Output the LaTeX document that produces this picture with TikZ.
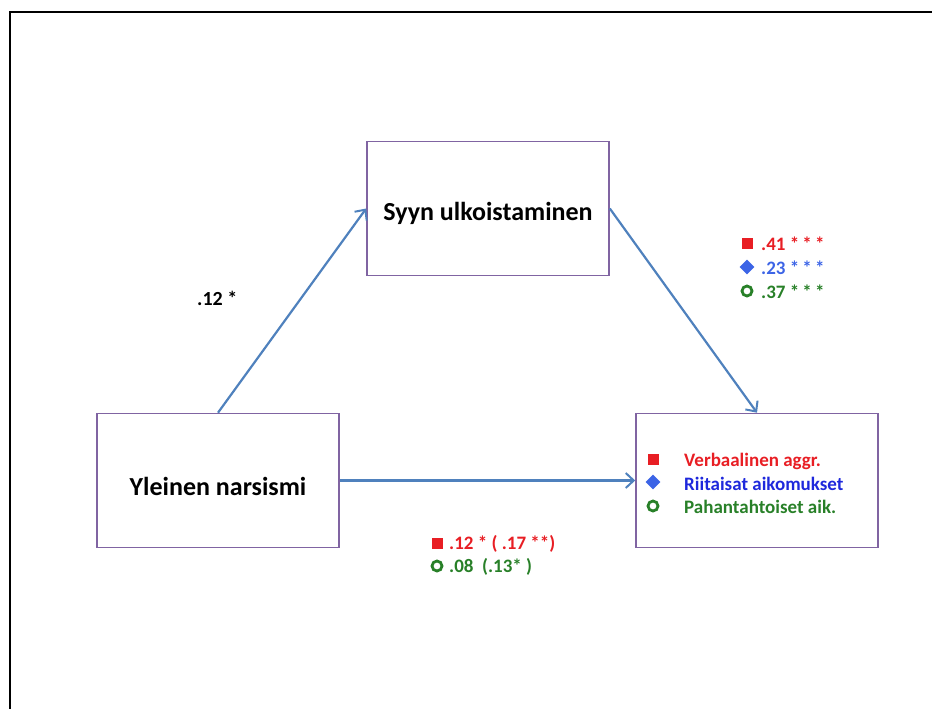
\documentclass[tikz,border=0pt]{standalone}
\usepackage{fontspec}
\setmainfont{Carlito}
\usetikzlibrary{shapes.geometric,arrows.meta}
\definecolor{boxpurple}{RGB}{128,100,162}
\definecolor{arrowblue}{RGB}{79,129,189}
\definecolor{cred}{RGB}{232,30,36}
\definecolor{cblue}{RGB}{60,100,230}
\definecolor{cdblue}{RGB}{30,40,220}
\definecolor{cgreen}{RGB}{40,128,40}
\begin{document}
\begin{tikzpicture}[x=1pt,y=-1pt,
  varbox/.style={draw=boxpurple, line width=1.6pt, minimum width=242pt,
    minimum height=134pt, inner sep=0pt},
  vartext/.style={inner sep=0pt, font=\bfseries\fontsize{26}{30}\selectfont},
  path/.style={draw=arrowblue, line width=2.2pt,
    -{Straight Barb[length=8pt,width=15pt,line width=2pt]}},
  lab/.style={anchor=west, inner sep=0pt, font=\bfseries\fontsize{19}{22}\selectfont},
  sq/.style={rectangle, fill=cred, minimum size=11pt, inner sep=0pt},
  dia/.style={diamond, fill=cblue, minimum size=15pt, inner sep=0pt},
  ring/.style={circle, draw=cgreen, line width=2.8pt, minimum size=10pt, inner sep=0pt}]
  \useasboundingbox (0,0) rectangle (932,709);
  % open frame
  \draw[line width=1.5pt] (10,712) -- (10,12) -- (935,12);

  % variables
  \node[varbox] (cause) at (488,208.5) {};
  \node[varbox] (narc)  at (218,480.5) {};
  \node[varbox] (out)   at (757,480.5) {};
  \node[vartext] (causet) at (488,213) {Syyn ulkoistaminen};
  \node[vartext] (narct)  at (218,486) {Yleinen narsismi};

  % paths
  \draw[path] (narc.north) -- (cause.west);
  \draw[path] (cause.east) -- (out.north);
  \draw[path] (narc.east) -- (out.west);

  % a path
  \node[lab, font=\bfseries\fontsize{20}{24}\selectfont] (a) at (197,298) {.12 *};

  % b paths
  \node[sq] (b1m) at (747,243) {};
  \node[lab, text=cred] (b1) at (761,244) {.41 *\,*\,*};
  \node[dia] (b2m) at (747,267) {};
  \node[lab, text=cblue] (b2) at (761,268) {.23 *\,*\,*};
  \node[ring] (b3m) at (747,291) {};
  \node[lab, text=cgreen] (b3) at (761,292) {.37 *\,*\,*};

  % outcome legend
  \node[sq] (o1m) at (653,459) {};
  \node[lab, text=cred] (o1) at (684,461) {Verbaalinen aggr.};
  \node[dia] (o2m) at (653,482) {};
  \node[lab, text=cdblue] (o2) at (684,484) {Riitaisat aikomukset};
  \node[ring] (o3m) at (653,506) {};
  \node[lab, text=cgreen] (o3) at (684,507) {Pahantahtoiset aik.};

  % c paths
  \node[sq] (c1m) at (437,543) {};
  \node[lab, text=cred] (c1) at (449,544) {.12 * ( .17 **)};
  \node[ring] (c2m) at (437,566) {};
  \node[lab, text=cgreen] (c2) at (449,567) {.08\ \ (.13* )};
\end{tikzpicture}
\end{document}
